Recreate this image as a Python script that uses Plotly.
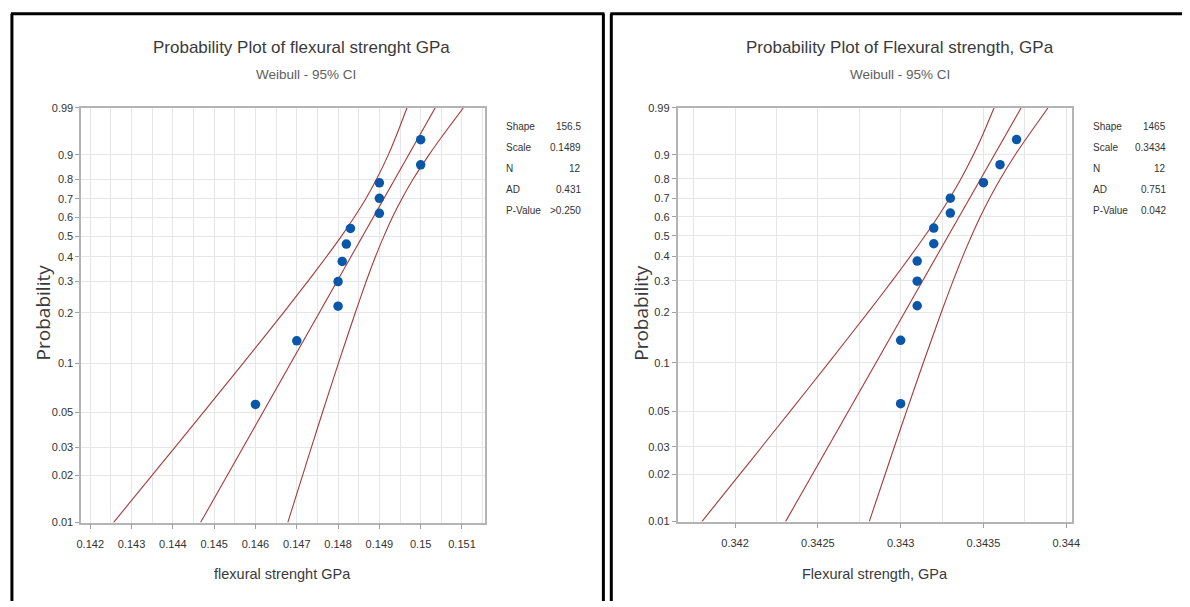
import numpy as np
import plotly.graph_objects as go

# ---------------- data ----------------
prob_ticks = [0.01, 0.02, 0.03, 0.05, 0.1, 0.2, 0.3, 0.4, 0.5, 0.6, 0.7, 0.8, 0.9, 0.99]
prob_tick_text = ["0.01", "0.02", "0.03", "0.05", "0.1", "0.2", "0.3", "0.4", "0.5", "0.6", "0.7", "0.8", "0.9", "0.99"]

# plotting positions (same for both samples, N = 12)
point_prob = [0.056, 0.137, 0.218, 0.298, 0.379, 0.460, 0.540, 0.621, 0.702, 0.782, 0.863, 0.944]

# probabilities at which the fitted line and the 95% CI curves were read
fit_prob = [0.01, 0.99]
ci_prob = [0.01, 0.02, 0.03, 0.05, 0.1, 0.2, 0.3, 0.4, 0.5, 0.6, 0.7, 0.8, 0.9, 0.95, 0.99]

# left chart: flexural strenght GPa
left_values = [0.146, 0.147, 0.148, 0.148, 0.1481, 0.1482, 0.1483, 0.149, 0.149, 0.149, 0.150, 0.150]
left_fit = [0.14467, 0.15035]
left_ci_low = [0.142562, 0.143495, 0.144045, 0.144739, 0.145694, 0.146675, 0.147273, 0.147718,
               0.148081, 0.148392, 0.148672, 0.148933, 0.149215, 0.149397, 0.149667]
left_ci_high = [0.146782, 0.147141, 0.147352, 0.147624, 0.148005, 0.148416, 0.148684, 0.148904,
                0.149110, 0.149316, 0.149545, 0.149818, 0.150201, 0.150507, 0.151031]
left_stats = [("Shape", "156.5"), ("Scale", "0.1489"), ("N", "12"), ("AD", "0.431"), ("P-Value", ">0.250")]
left_xticks = [0.142, 0.143, 0.144, 0.145, 0.146, 0.147, 0.148, 0.149, 0.150, 0.151]

# right chart: Flexural strength, GPa
right_values = [0.3430, 0.3430, 0.3431, 0.3431, 0.3431, 0.3432, 0.3432, 0.3433, 0.3433, 0.3435, 0.3436, 0.3437]
right_fit = [0.342305, 0.343727]
right_ci_low = [0.3417996, 0.3420281, 0.3421621, 0.3423313, 0.3425646, 0.3428032, 0.3429498, 0.3430580,
                0.3431471, 0.3432243, 0.3432949, 0.3433636, 0.3434396, 0.3434898, 0.3435640]
right_ci_high = [0.3428104, 0.3429061, 0.3429623, 0.3430347, 0.3431364, 0.3432458, 0.3433170, 0.3433750,
                 0.3434282, 0.3434803, 0.3435365, 0.3436017, 0.3436920, 0.3437650, 0.3438894]
right_stats = [("Shape", "1465"), ("Scale", "0.3434"), ("N", "12"), ("AD", "0.751"), ("P-Value", "0.042")]
right_xticks = [0.342, 0.3425, 0.343, 0.3435, 0.344]


def wb(p):
    """Weibull probability-paper transform ln(-ln(1-p))."""
    p = np.asarray(p, dtype=float)
    return np.log(-np.log(1.0 - p))


W, H = 1190, 607
FONT = "Liberation Sans, Arial, sans-serif"
LINE_RED = "#a83a3a"
BLUE = "#0a56a8"
TXT = "#3a3a3a"


def px_x(x):
    return x / W


def px_y(y):
    return 1 - y / H


fig = go.Figure()

panels = [
    dict(values=left_values, fit=left_fit, lo=left_ci_low, hi=left_ci_high,
         xa="x", ya="y", xrange=[0.14178, 0.15155], xticks=left_xticks, minor=0.0005,
         dom_x=(77, 485), dom_y=(104, 527), title="Probability Plot of flexural strenght GPa",
         xtitle="flexural strenght GPa", stats=left_stats, stat_x=(505, 584), cx=300, scx=304, ytx=38),
    dict(values=right_values, fit=right_fit, lo=right_ci_low, hi=right_ci_high,
         xa="x2", ya="y2", xrange=[0.341653, 0.344036], xticks=right_xticks, minor=0.00025,
         dom_x=(680, 1079), dom_y=(104, 526), title="Probability Plot of Flexural strength, GPa",
         xtitle="Flexural strength, GPa", stats=right_stats, stat_x=(1098, 1176), cx=905, scx=905, ytx=643),
]

layout_axes = {}
annotations = []
for i, pn in enumerate(panels):
    # 95% confidence bounds
    for arr in (pn["lo"], pn["hi"]):
        fig.add_trace(go.Scatter(x=arr, y=wb(ci_prob), mode="lines", xaxis=pn["xa"], yaxis=pn["ya"],
                                 line=dict(color=LINE_RED, width=1.1, shape="spline", smoothing=0.6),
                                 showlegend=False, hoverinfo="skip"))
    # fitted Weibull line
    fig.add_trace(go.Scatter(x=pn["fit"], y=wb(fit_prob), mode="lines", xaxis=pn["xa"], yaxis=pn["ya"],
                             line=dict(color=LINE_RED, width=1.1), showlegend=False, hoverinfo="skip"))
    # data points
    fig.add_trace(go.Scatter(x=pn["values"], y=wb(point_prob), mode="markers", xaxis=pn["xa"], yaxis=pn["ya"],
                             marker=dict(color=BLUE, size=9.5, symbol="circle"), showlegend=False))

    sfx = "" if i == 0 else "2"
    layout_axes["xaxis" + sfx] = dict(
        domain=[px_x(pn["dom_x"][0]), px_x(pn["dom_x"][1])], range=pn["xrange"], anchor="y" + sfx,
        tickvals=pn["xticks"], ticks="outside", ticklen=5, tickcolor="#a0a0a0", ticklabelstandoff=5,
        showline=True, linecolor="#b4b4b4", linewidth=1.5, mirror=True,
        showgrid=True, gridcolor="#e6e6e6", gridwidth=1,
        minor=dict(dtick=pn["minor"], tick0=pn["xticks"][0], showgrid=True, gridcolor="#e6e6e6", gridwidth=1),
        tickfont=dict(family=FONT, size=11, color="#333333"), zeroline=False)
    layout_axes["yaxis" + sfx] = dict(
        domain=[px_y(pn["dom_y"][1]), px_y(pn["dom_y"][0])], range=[float(wb(0.01)), float(wb(0.99))],
        anchor="x" + sfx, tickvals=wb(prob_ticks), ticktext=prob_tick_text, ticks="outside", ticklen=4,
        tickcolor="#a0a0a0", showline=True, linecolor="#b4b4b4", linewidth=1.5, mirror=True,
        showgrid=True, gridcolor="#e6e6e6", gridwidth=1,
        tickfont=dict(family=FONT, size=11, color="#333333"), zeroline=False)

    annotations.append(dict(text=pn["title"], x=px_x(pn["cx"]), y=px_y(42), xref="paper", yref="paper",
                            showarrow=False, font=dict(family=FONT, size=17, color=TXT),
                            xanchor="center", yanchor="middle"))
    annotations.append(dict(text="Weibull - 95% CI", x=px_x(pn["scx"]), y=px_y(70), xref="paper", yref="paper",
                            showarrow=False, font=dict(family=FONT, size=13.5, color="#606060"),
                            xanchor="center", yanchor="middle"))
    annotations.append(dict(text=pn["xtitle"], x=px_x((pn["dom_x"][0] + pn["dom_x"][1]) / 2), y=px_y(579),
                            xref="paper", yref="paper", showarrow=False,
                            font=dict(family=FONT, size=14.5, color=TXT), xanchor="center", yanchor="middle"))
    annotations.append(dict(text="Probability", x=px_x(pn["ytx"]), y=px_y(313), xref="paper", yref="paper",
                            showarrow=False, textangle=-90,
                            font=dict(family="Open Sans, sans-serif", size=19, color=TXT),
                            xanchor="center", yanchor="middle"))
    for r, (lab, val) in enumerate(pn["stats"]):
        yy = 123 + r * 21.5
        annotations.append(dict(text=lab, x=px_x(pn["stat_x"][0]), y=px_y(yy), xref="paper", yref="paper",
                                showarrow=False, font=dict(family=FONT, size=10, color="#333333"),
                                xanchor="left", yanchor="middle"))
        annotations.append(dict(text=val, x=px_x(pn["stat_x"][1]), y=px_y(yy), xref="paper", yref="paper",
                                showarrow=False, font=dict(family=FONT, size=10, color="#333333"),
                                xanchor="right", yanchor="middle"))

shapes = [
    # left panel frame
    dict(type="line", xref="paper", yref="paper", x0=px_x(7), x1=px_x(7), y0=0, y1=px_y(8),
         line=dict(color="black", width=3)),
    dict(type="line", xref="paper", yref="paper", x0=px_x(6), x1=px_x(606), y0=px_y(8), y1=px_y(8),
         line=dict(color="black", width=3)),
    dict(type="line", xref="paper", yref="paper", x0=px_x(605), x1=px_x(605), y0=0, y1=px_y(8),
         line=dict(color="black", width=3)),
    # right panel frame
    dict(type="line", xref="paper", yref="paper", x0=px_x(613), x1=px_x(613), y0=0, y1=px_y(8),
         line=dict(color="black", width=3)),
    dict(type="line", xref="paper", yref="paper", x0=px_x(612), x1=1, y0=px_y(8), y1=px_y(8),
         line=dict(color="black", width=3)),
]

fig.update_layout(width=W, height=H, margin=dict(l=0, r=0, t=0, b=0), paper_bgcolor="white",
                  plot_bgcolor="white", annotations=annotations, shapes=shapes, showlegend=False,
                  **layout_axes)
fig.write_html("out.html", config={"displayModeBar": False},
               post_script="document.documentElement.style.margin='0';document.body.style.margin='0';"
                           "document.body.style.overflow='hidden';document.documentElement.style.overflow='hidden';")
